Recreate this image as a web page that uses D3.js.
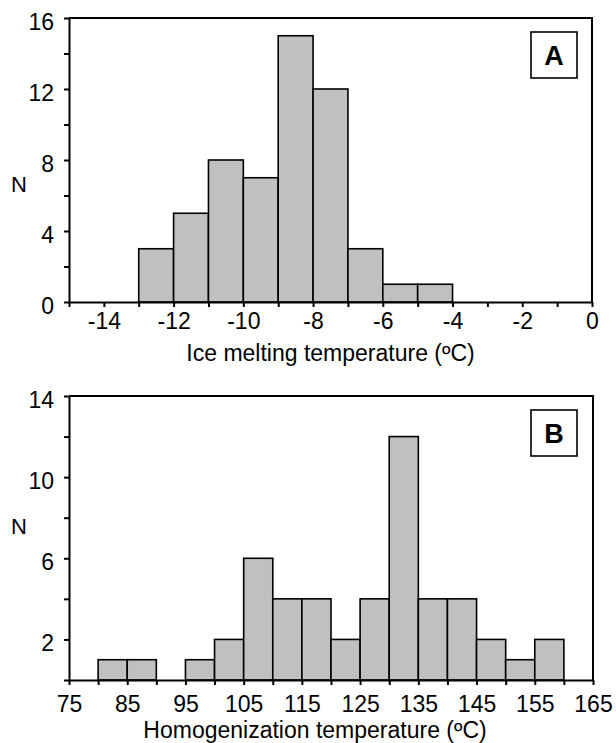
<!DOCTYPE html>
<html>
<head>
<meta charset="utf-8">
<script src="https://cdn.jsdelivr.net/npm/d3@7"></script>
<style>
  body { margin: 0; background: #fff; }
  text { font-family: "Liberation Sans", Arial, sans-serif; fill: #000; }
</style>
</head>
<body>
<script>
// panel A: ice melting temperature, 1 degree bins (left edge of each bin)
const iceBinStart = [-13, -12, -11, -10, -9, -8, -7, -6, -5];
const iceCounts = [3, 5, 8, 7, 15, 12, 3, 1, 1];
const iceBinWidth = 1;
const iceXTicks = [-14, -12, -10, -8, -6, -4, -2, 0];
const iceYTicks = [0, 4, 8, 12, 16];

// panel B: homogenization temperature, 5 degree bins
const homBinStart = [80, 85, 90, 95, 100, 105, 110, 115, 120, 125, 130, 135, 140, 145, 150, 155];
const homCounts = [1, 1, 0, 1, 2, 6, 4, 4, 2, 4, 12, 4, 4, 2, 1, 2];
const homBinWidth = 5;
const homXTicks = [75, 85, 95, 105, 115, 125, 135, 145, 155, 165];
const homYTicks = [2, 6, 10, 14];

const W = 616, H = 743;
const svg = d3.select("body").append("svg")
    .attr("width", W)
    .attr("height", H);

function drawPanel(opt) {
    const x = d3.scaleLinear().domain(opt.xDomain).range([opt.left, opt.right]);
    const y = d3.scaleLinear().domain(opt.yDomain).range([opt.bottom, opt.top]);
    const g = svg.append("g");

    // bars
    const bins = opt.starts.map((s, i) => ({ x0: s, x1: s + opt.binWidth, n: opt.counts[i] }))
        .filter(d => d.n > 0);
    g.append("g")
        .selectAll("rect")
        .data(bins)
        .enter().append("rect")
        .attr("x", d => x(d.x0))
        .attr("y", d => y(d.n))
        .attr("width", d => x(d.x1) - x(d.x0))
        .attr("height", d => y(0) - y(d.n))
        .attr("fill", "#c0c0c0")
        .attr("stroke", "#000")
        .attr("stroke-width", 1.6);

    // frame (top + right)
    g.append("path")
        .attr("d", `M${opt.left},${opt.top}H${opt.right}V${opt.bottom}`)
        .attr("fill", "none")
        .attr("stroke", "#000")
        .attr("stroke-width", 2);

    // x axis: minor tick at every bin step, label only the listed ticks
    const xAll = d3.range(opt.xDomain[0], opt.xDomain[1] + opt.xStep / 2, opt.xStep);
    const xAxis = g.append("g")
        .attr("transform", `translate(0,${opt.bottom})`)
        .call(d3.axisBottom(x)
            .tickValues(xAll)
            .tickSize(5)
            .tickSizeOuter(0)
            .tickFormat(d => opt.xTicks.includes(d) ? d : ""));
    xAxis.select(".domain").attr("stroke-width", 2);
    xAxis.selectAll(".tick line").attr("stroke-width", 2);
    xAxis.selectAll(".tick text")
        .attr("dy", "0.71em")
        .attr("y", opt.xLabelGap)
        .style("font-size", "23px");

    // y axis
    const yAll = d3.range(opt.yDomain[0], opt.yDomain[1] + 1, 2);
    const yAxis = g.append("g")
        .attr("transform", `translate(${opt.left},0)`)
        .call(d3.axisLeft(y)
            .tickValues(yAll)
            .tickSize(5)
            .tickSizeOuter(0)
            .tickFormat(d => opt.yTicks.includes(d) ? d : ""));
    yAxis.select(".domain").attr("stroke-width", 2);
    yAxis.selectAll(".tick line").attr("stroke-width", 2);
    yAxis.selectAll(".tick text")
        .attr("x", -15)
        .attr("dy", "0.5em")
        .style("font-size", "23px");

    // axis titles
    g.append("text")
        .attr("x", (opt.left + opt.right) / 2 + opt.titleShift)
        .attr("y", opt.titleY)
        .attr("text-anchor", "middle")
        .style("font-size", "23px")
        .text(opt.xTitle);
    g.append("text")
        .attr("x", 19)
        .attr("y", opt.nY)
        .attr("text-anchor", "middle")
        .attr("dy", "0.36em")
        .style("font-size", "22px")
        .text("N");

    // panel letter box
    g.append("rect")
        .attr("x", 531).attr("y", opt.top + 14)
        .attr("width", 46).attr("height", 46)
        .attr("fill", "#fff")
        .attr("stroke", "#000")
        .attr("stroke-width", 1.6);
    g.append("text")
        .attr("x", 554).attr("y", opt.top + 37)
        .attr("dy", "0.36em")
        .attr("text-anchor", "middle")
        .style("font-size", "27px")
        .style("font-weight", "bold")
        .text(opt.letter);
}

drawPanel({
    starts: iceBinStart, counts: iceCounts, binWidth: iceBinWidth,
    xDomain: [-15, 0], xStep: 1, yDomain: [0, 16],
    xTicks: iceXTicks, yTicks: iceYTicks,
    left: 69, right: 592, top: 18, bottom: 302,
    xLabelGap: 11,
    xTitle: "Ice melting temperature (ºC)", titleY: 361, titleShift: 0,
    nY: 184, letter: "A"
});

drawPanel({
    starts: homBinStart, counts: homCounts, binWidth: homBinWidth,
    xDomain: [75, 165], xStep: 5, yDomain: [0, 14],
    xTicks: homXTicks, yTicks: homYTicks,
    left: 69, right: 593, top: 396, bottom: 680,
    xLabelGap: 16,
    xTitle: "Homogenization temperature (ºC)", titleY: 738, titleShift: -16,
    nY: 526, letter: "B"
});
</script>
</body>
</html>
